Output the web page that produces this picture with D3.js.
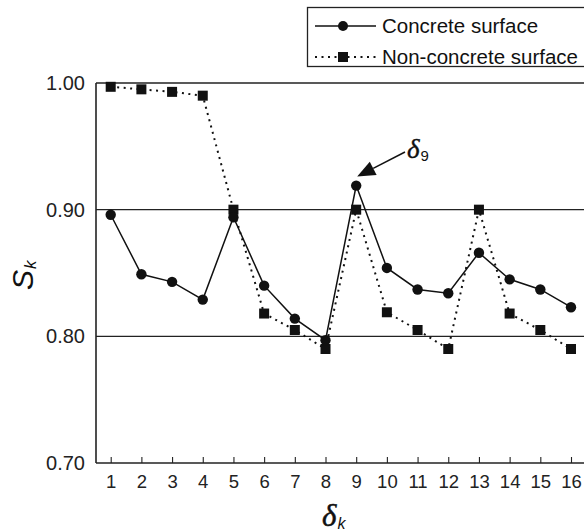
<!DOCTYPE html>
<html>
<head>
<meta charset="utf-8">
<script src="https://cdn.jsdelivr.net/npm/d3@7"></script>
<style>
  html, body { margin: 0; padding: 0; background: #fff; }
  svg { display: block; }
</style>
</head>
<body>
<svg id="chart" width="584" height="532"></svg>
<script>
const categories = [1, 2, 3, 4, 5, 6, 7, 8, 9, 10, 11, 12, 13, 14, 15, 16];
const concrete = [0.896, 0.849, 0.843, 0.829, 0.894, 0.840, 0.814, 0.797, 0.919, 0.854, 0.837, 0.834, 0.866, 0.845, 0.837, 0.823];
const nonConcrete = [0.997, 0.995, 0.993, 0.990, 0.900, 0.818, 0.805, 0.790, 0.900, 0.819, 0.805, 0.790, 0.900, 0.818, 0.805, 0.790];
const yTicks = [0.70, 0.80, 0.90, 1.00];
const seriesNames = ["Concrete surface", "Non-concrete surface"];

(function () {
const svg = d3.select("#chart");
const W = 584;
const plotLeft = 96, plotTop = 83, plotBottom = 463;

const x = d3.scaleLinear().domain([1, 16]).range([110.7, 571]);
const y = d3.scaleLinear().domain([0.70, 1.00]).range([plotBottom, plotTop]);

const font = "'Liberation Sans', Arial, Helvetica, sans-serif";
const serif = "'Liberation Serif', 'Times New Roman', serif";

// grid lines / frame
const g = svg.append("g");
yTicks.forEach(v => {
  g.append("line")
    .attr("x1", plotLeft).attr("x2", W)
    .attr("y1", y(v)).attr("y2", y(v))
    .attr("stroke", "#222")
    .attr("stroke-width", (v === 0.70 || v === 1.00) ? 1.6 : 1.1);
});
g.append("line").attr("x1", plotLeft).attr("x2", plotLeft)
  .attr("y1", plotTop).attr("y2", plotBottom)
  .attr("stroke", "#222").attr("stroke-width", 1.6);

// x axis ticks (inward)
const xAxis = d3.axisBottom(x).tickValues(categories).tickSizeInner(-6).tickSizeOuter(0).tickPadding(12).tickFormat(d3.format("d"));
const xg = svg.append("g").attr("transform", `translate(0,${plotBottom})`).call(xAxis);
xg.select(".domain").remove();
xg.selectAll(".tick line").attr("stroke", "#222").attr("stroke-width", 1.1);
xg.selectAll(".tick text").attr("font-family", font).attr("font-size", 18.5).attr("fill", "#222").attr("dy", "0.71em");

// y axis labels
const yAxis = d3.axisLeft(y).tickValues(yTicks).tickSize(0).tickPadding(11).tickFormat(d3.format(".2f"));
const yg = svg.append("g").attr("transform", `translate(${plotLeft},0)`).call(yAxis);
yg.select(".domain").remove();
yg.selectAll(".tick text").attr("font-family", font).attr("font-size", 20).attr("fill", "#222");

// lines
const line = d3.line().x((d, i) => x(categories[i])).y(d => y(d));
svg.append("path").datum(nonConcrete).attr("d", line)
  .attr("fill", "none").attr("stroke", "#111").attr("stroke-width", 2)
  .attr("stroke-dasharray", "2,4.5");
svg.append("path").datum(concrete).attr("d", line)
  .attr("fill", "none").attr("stroke", "#111").attr("stroke-width", 1.5);

// markers
const sq = 10;
svg.selectAll("rect.nc").data(nonConcrete).enter().append("rect")
  .attr("class", "nc")
  .attr("x", (d, i) => x(categories[i]) - sq / 2)
  .attr("y", d => y(d) - sq / 2)
  .attr("width", sq).attr("height", sq).attr("fill", "#111");
svg.selectAll("circle.c").data(concrete).enter().append("circle")
  .attr("class", "c")
  .attr("cx", (d, i) => x(categories[i]))
  .attr("cy", d => y(d))
  .attr("r", 5.2).attr("fill", "#111");

// annotation delta_9
const tipX = x(9) + 1, tipY = y(concrete[8]) - 9;
const sx = 405, sy = 152;
const ang = Math.atan2(sy - tipY, sx - tipX);
const hl = 18, hw = 7.5;
const bx = tipX + hl * Math.cos(ang), by = tipY + hl * Math.sin(ang);
svg.append("line").attr("x1", sx).attr("y1", sy).attr("x2", bx).attr("y2", by)
  .attr("stroke", "#111").attr("stroke-width", 1.5);
svg.append("path")
  .attr("d", `M${tipX},${tipY} L${bx + hw * Math.sin(ang)},${by - hw * Math.cos(ang)} L${bx - hw * Math.sin(ang)},${by + hw * Math.cos(ang)} Z`)
  .attr("fill", "#111");
const ann = svg.append("text").attr("x", 407).attr("y", 158).attr("fill", "#111");
ann.append("tspan").attr("font-family", serif).attr("font-style", "italic").attr("font-size", 27).attr("stroke", "#111").attr("stroke-width", 0.4).text("δ");
ann.append("tspan").attr("font-family", font).attr("font-size", 15).attr("dy", 3).attr("dx", 1).text("9");

// x label
const xl = svg.append("text").attr("x", 322).attr("y", 526).attr("fill", "#111");
xl.append("tspan").attr("font-family", serif).attr("font-style", "italic").attr("font-size", 31).attr("stroke", "#111").attr("stroke-width", 0.5).text("δ");
xl.append("tspan").attr("font-family", font).attr("font-style", "italic").attr("font-size", 16).attr("dy", 3).attr("dx", 1).text("k");

// y label
const yl = svg.append("text").attr("transform", "translate(33,290) rotate(-90)").attr("fill", "#111");
yl.append("tspan").attr("font-family", font).attr("font-style", "italic").attr("font-size", 30).text("S");
yl.append("tspan").attr("font-family", font).attr("font-style", "italic").attr("font-size", 17).attr("dy", 3).attr("dx", 1).text("k");

// legend
svg.append("rect").attr("x", 307.5).attr("y", 7.5).attr("width", 300).attr("height", 59)
  .attr("fill", "#fff").attr("stroke", "#222").attr("stroke-width", 1.3);
const rows = [26, 57];
svg.append("line").attr("x1", 315).attr("x2", 376).attr("y1", rows[0]).attr("y2", rows[0])
  .attr("stroke", "#111").attr("stroke-width", 1.5);
svg.append("circle").attr("cx", 343).attr("cy", rows[0]).attr("r", 5).attr("fill", "#111");
svg.append("line").attr("x1", 315).attr("x2", 376).attr("y1", rows[1]).attr("y2", rows[1])
  .attr("stroke", "#111").attr("stroke-width", 2).attr("stroke-dasharray", "2,4.5");
svg.append("rect").attr("x", 338).attr("y", rows[1] - 5).attr("width", 10).attr("height", 10).attr("fill", "#111");
seriesNames.forEach((n, i) => {
  svg.append("text").attr("x", 382).attr("y", rows[i]).attr("dy", "0.35em")
    .attr("font-family", font).attr("font-size", 20.5).attr("fill", "#111").text(n);
});
})();
</script>
</body>
</html>
